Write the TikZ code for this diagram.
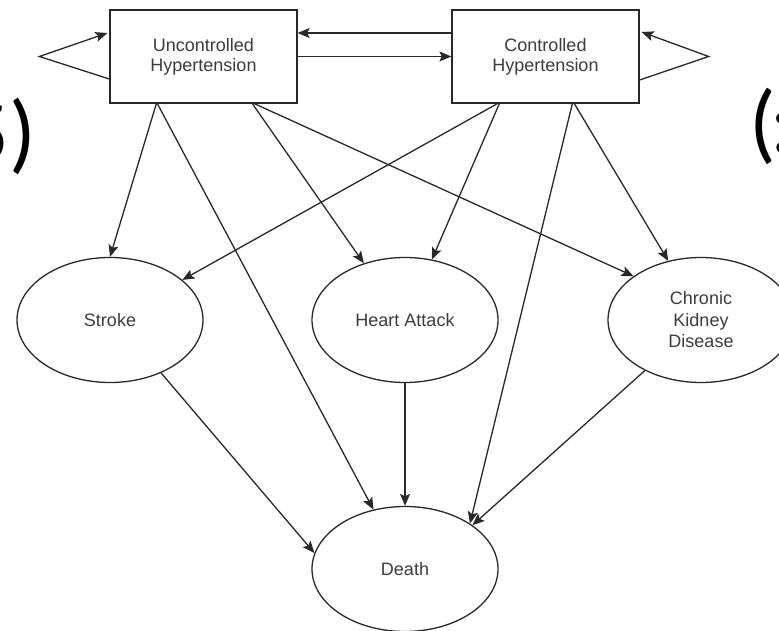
\documentclass[tikz,border=0pt]{standalone}
\usepackage{fontspec}
\setmainfont{Liberation Sans}
\newfontfamily\bigglyph{Carlito}
\usetikzlibrary{arrows.meta,calc,shapes.geometric}

\definecolor{inkline}{RGB}{40,40,40}
\definecolor{inktext}{RGB}{60,60,60}

\tikzset{
  x=1pt, y=1pt,
  statebox/.style={draw=inkline, line width=1.3pt, fill=white, minimum width=187pt,
    minimum height=93pt, inner sep=0pt, align=center, font=\fontsize{18}{20}\selectfont,
    text=inktext},
  outcome/.style={ellipse, draw=inkline, line width=1.3pt, fill=white, minimum width=186pt,
    minimum height=125pt, inner sep=0pt, align=center, font=\fontsize{18}{21.5}\selectfont,
    text=inktext},
  link/.style={draw=inkline, line width=1.3pt,
    -{Stealth[length=12pt, width=10pt, inset=2.5pt]}},
  fragment/.style={inner sep=0pt, font=\bigglyph\fontsize{88}{88}\selectfont, text=black}
}

\begin{document}
\begin{tikzpicture}
\path[use as bounding box, clip] (0,0) rectangle (779,630);
\fill[white] (0,0) rectangle (779,630);

% cut-off glyphs at the edges
\node[fragment, anchor=base east] (fragL) at (36,467) {5)};
\node[fragment, anchor=base west] (fragR) at (749,477) {(\kern-5pt:};

% health states
\node[statebox] (U) at (203.5,573.5) {Uncontrolled\\Hypertension};
\node[statebox] (C) at (545.5,573.5) {Controlled\\Hypertension};

% outcomes
\node[outcome] (S) at (110,310) {Stroke};
\node[outcome] (H) at (405,310) {Heart Attack};
\node[outcome] (K) at (701,310) {Chronic\\Kidney\\Disease};
\node[outcome] (D) at (405,61) {Death};

% transitions between the two states
\draw[link] ($(C.west)+(0,23.5)$) -- ($(U.east)+(0,23.5)$);
\draw[link] (U.east) -- (C.west);

% staying in the same state
\draw[link] ($(U.west)+(0,-22.5)$) -- ($(U.west)+(-70,0)$) -- ($(U.west)+(-2,23.5)$);
\draw[link] ($(C.east)+(0,-23.5)$) -- ($(C.east)+(69,0)$) -- ($(C.east)+(2,24.5)$);

% from uncontrolled hypertension
\draw[link] ($(U.south west)+(47,0)$) -- (S.north);
\draw[link] ($(U.south west)+(48,0)$) -- (D.118);
\draw[link] ($(U.south west)+(143,0)$) -- (H.126);
\draw[link] ($(U.south west)+(145,0)$) -- (K.147);

% from controlled hypertension
\draw[link] ($(C.south west)+(46,0)$) -- (S.29);
\draw[link] ($(C.south west)+(48,0)$) -- (H.66);
\draw[link] ($(C.south west)+(121,0)$) -- (D.35);
\draw[link] ($(C.south west)+(123,0)$) -- (K.119);

% outcomes to death
\draw[link] (S.-46) -- (D.170);
\draw[link] (H.south) -- (D.north);
\draw[link] (K.222) -- (D.33);
\end{tikzpicture}
\end{document}
